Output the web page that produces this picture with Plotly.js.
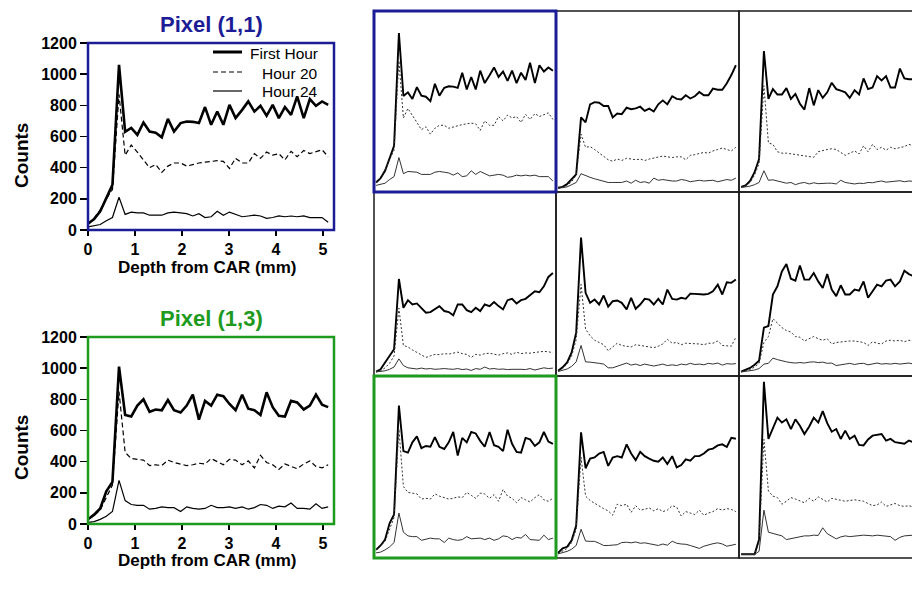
<!DOCTYPE html>
<html>
<head>
<meta charset="utf-8">
<script src="https://cdn.plot.ly/plotly-3.0.1.min.js"></script>
<style>
html,body{margin:0;padding:0;overflow:hidden;background:#ffffff;width:912px;height:590px}
#chart{width:930px;height:590px}
</style>
</head>
<body>
<div id="chart"></div>
<script>
// Depth from CAR (mm), sample positions
const depth = [0.00,0.13,0.26,0.39,0.52,0.66,0.79,0.92,1.05,1.18,1.31,1.44,1.57,1.70,1.83,1.97,2.10,2.23,2.36,2.49,2.62,2.75,2.88,3.01,3.14,3.28,3.41,3.54,3.67,3.80,3.93,4.06,4.19,4.32,4.45,4.59,4.72,4.85,4.98,5.11];

const seriesNames = ["First Hour", "Hour 20", "Hour 24"];
const yTicks = [0,200,400,600,800,1000,1200];
const xTicks = [0,1,2,3,4,5];

// Pixel (1,1)
const p11_first = [40,70,120,200,290,1060,630,655,610,690,632,625,595,713,632,686,696,694,686,789,675,760,675,803,718,771,825,760,797,733,803,718,789,739,857,718,840,797,825,803];
const p11_h20   = [40,75,130,200,260,870,480,545,500,450,400,420,370,410,430,430,410,420,430,435,440,445,440,395,460,430,430,490,460,500,480,490,450,505,470,510,490,500,515,470];
const p11_h24   = [20,30,35,60,80,210,100,115,110,110,95,95,95,110,115,110,105,90,105,80,85,120,95,115,100,85,90,95,90,75,80,90,85,90,85,90,80,80,80,50];

// Pixel (1,3)
const p13_first = [30,60,100,210,270,1010,700,690,760,800,720,735,730,795,730,715,760,830,670,790,760,830,820,770,730,830,740,730,700,845,750,695,690,790,780,735,760,830,765,750];
const p13_h20   = [30,55,90,170,250,850,460,420,415,410,375,380,375,410,395,385,375,380,390,385,420,400,380,415,410,380,405,360,440,395,380,350,385,370,355,385,405,370,360,380];
const p13_h24   = [10,15,30,50,80,280,150,125,120,120,95,100,110,105,105,80,110,100,95,100,120,105,105,110,100,110,95,105,125,120,100,115,110,135,100,100,95,130,100,110];

// Pixel (2,1)
const p21_first = [5,10,30,60,95,484,450,573,588,584,562,562,484,510,506,550,540,546,557,528,544,524,573,600,573,628,610,606,635,613,628,657,635,635,680,673,673,717,773,840];
const p21_h20   = [0,5,20,45,90,370,280,285,265,240,220,195,185,200,190,205,200,195,200,190,200,205,210,220,215,210,215,215,195,225,230,240,245,240,255,265,275,265,255,280];
const p21_h24   = [0,5,10,25,40,100,85,75,65,55,45,40,40,40,40,50,35,55,40,45,35,70,55,60,55,50,50,60,55,45,50,55,50,50,55,45,55,60,55,70];

// Pixel (3,1)
const p31_first = [10,20,50,110,200,937,610,677,640,640,684,610,644,577,537,684,566,670,617,655,721,677,666,655,617,670,640,750,677,688,766,737,766,688,688,817,750,744,744,733];
const p31_h20   = [10,15,40,90,170,700,310,300,250,240,240,235,230,225,220,215,212,250,260,265,270,265,245,225,240,255,235,290,250,300,265,280,260,280,270,280,285,300,290,295];
const p31_h24   = [5,8,15,25,40,120,55,58,50,45,35,40,25,35,40,30,38,32,35,35,35,30,55,40,35,30,35,33,40,38,45,50,42,45,50,52,45,50,48,50];

// Pixel (1,2)
const p12_first = [5,20,65,110,155,626,433,484,455,462,433,400,404,426,444,411,404,382,455,455,417,404,433,411,455,444,471,444,422,484,493,462,484,493,515,544,537,577,640,666];
const p12_h20   = [3,10,30,60,110,430,180,170,150,135,115,100,110,120,118,125,122,130,135,125,120,100,120,115,125,128,120,115,125,130,120,135,125,130,128,135,137,140,138,130];
const p12_h24   = [2,5,10,20,35,90,45,30,25,22,28,22,25,20,22,25,22,20,25,18,22,12,25,20,35,22,25,20,22,18,20,22,20,18,25,15,22,30,25,28];

// Pixel (2,2)
const p22_first = [10,33,66,133,266,904,533,466,488,455,515,440,477,482,466,422,500,426,455,493,488,455,493,455,555,493,488,500,493,528,526,522,522,526,544,588,522,604,600,622];
const p22_h20   = [8,25,55,110,220,590,290,245,215,200,185,145,170,195,180,175,170,185,180,175,170,165,175,190,222,195,200,185,195,195,190,190,185,195,195,210,180,180,175,235];
const p22_h24   = [5,12,22,40,70,180,70,68,66,60,55,30,30,40,50,62,48,55,45,55,48,42,48,55,45,50,45,55,50,60,52,55,50,60,55,62,48,58,55,58];

// Pixel (3,2)
const p32_first = [5,15,29,51,78,300,311,522,577,677,726,628,615,717,622,622,666,610,566,659,555,511,584,522,522,555,548,610,500,544,588,577,615,622,577,610,682,659,644,633];
const p32_h20   = [3,8,18,35,60,200,240,360,330,300,280,270,240,235,210,225,240,225,215,225,190,200,205,210,210,210,205,200,180,205,195,190,210,215,210,215,205,215,210,205];
const p32_h24   = [2,5,10,15,25,55,60,95,85,75,70,65,62,65,62,68,70,65,68,60,62,45,52,55,60,52,58,60,50,55,62,55,58,55,60,55,58,62,55,60];

// Pixel (2,3)
const p23_first = [10,40,51,95,195,828,584,650,657,684,695,600,657,666,657,746,684,639,695,666,650,635,628,657,613,666,590,606,644,635,666,666,684,710,717,739,746,728,790,784];
const p23_h20   = [5,20,40,80,170,660,395,365,345,330,310,295,265,340,330,340,285,330,300,305,315,295,310,290,300,330,320,260,290,280,270,300,265,280,290,310,300,310,305,290];
const p23_h24   = [3,10,20,35,60,170,90,88,88,75,60,60,62,65,80,82,78,84,75,78,72,65,60,70,62,89,75,70,68,60,50,40,55,65,72,78,70,55,60,68];

// Pixel (3,3)
const p33_first = [0,0,0,0,100,1170,783,854,927,894,916,850,916,872,816,867,927,894,972,890,832,850,783,839,783,805,743,739,779,805,810,816,772,783,761,757,750,772,761,750];
const p33_h20   = [0,0,0,0,80,780,430,395,385,340,360,385,375,365,350,380,360,390,375,355,380,375,370,360,365,370,365,360,345,330,335,355,325,335,345,330,325,330,320,330];
const p33_h24   = [0,0,0,0,20,300,150,140,135,125,100,105,115,120,125,125,130,128,180,140,120,105,118,125,120,125,128,130,128,125,130,125,125,120,95,115,125,130,130,128];

// ---------- layout helpers ----------
const W = 930, H = 590;
const fx = px => px / W;
const fy = py => 1 - py / H;
const BLUE = "#1c1c96";
const GREEN = "#1e9a1e";
const FONT = "Liberation Sans, Arial, sans-serif";

const bigStyles = [
  {color:"#000000", width:2.6},
  {color:"#000000", width:1.2, dash:"5px,3px"},
  {color:"#000000", width:1.2}
];
const smallStyles = [
  {color:"#000000", width:1.9},
  {color:"#333333", width:1.0, dash:"2px,2px"},
  {color:"#333333", width:1.0}
];

const traces = [];
const layout = {
  width: W, height: H,
  margin: {l:0, r:0, t:0, b:0},
  paper_bgcolor: "#ffffff", plot_bgcolor: "#ffffff",
  font: {family: FONT, color: "#000000"},
  showlegend: false,
  shapes: [], annotations: []
};

function addPanel(idx, series, big, dom) {
  const xa = idx === 1 ? "x" : "x" + idx;
  const ya = idx === 1 ? "y" : "y" + idx;
  const styles = big ? bigStyles : smallStyles;
  series.forEach((ys, k) => {
    traces.push({
      type: "scatter", mode: "lines", x: depth, y: ys,
      xaxis: xa, yaxis: ya, name: seriesNames[k],
      showlegend: false, line: styles[k], hoverinfo: "skip"
    });
  });
  const xKey = idx === 1 ? "xaxis" : "xaxis" + idx;
  const yKey = idx === 1 ? "yaxis" : "yaxis" + idx;
  if (big) {
    layout[xKey] = {
      domain: [fx(dom[0]), fx(dom[1])], anchor: ya, range: [0, 5.234],
      tickvals: xTicks, ticks: "outside", ticklen: 5, tickwidth: 1.5, tickcolor: "#000",
      tickfont: {family: FONT, size: 16, weight: "bold", color: "#000"},
      showgrid: false, zeroline: false, showline: false, fixedrange: true
    };
    layout[yKey] = {
      domain: [fy(dom[3]), fy(dom[2])], anchor: xa, range: [0, 1200],
      tickvals: yTicks, ticks: "outside", ticklen: 7, tickwidth: 1.5, tickcolor: "#000",
      tickfont: {family: FONT, size: 16, weight: "bold", color: "#000"},
      showgrid: false, zeroline: false, showline: false, fixedrange: true
    };
  } else {
    layout[xKey] = {
      domain: [fx(dom[0]), fx(dom[1])], anchor: ya, range: [-0.06, 5.2],
      showticklabels: false, ticks: "", showgrid: false, zeroline: false, showline: false, fixedrange: true
    };
    layout[yKey] = {
      domain: [fy(dom[3]), fy(dom[2])], anchor: xa, range: [-25, 1210],
      showticklabels: false, ticks: "", showgrid: false, zeroline: false, showline: false, fixedrange: true
    };
  }
  return {xa, ya};
}

function border(ax, color, width) {
  layout.shapes.push({
    type: "rect", xref: ax.xa + " domain", yref: ax.ya + " domain",
    x0: 0, x1: 1, y0: 0, y1: 1, line: {color: color, width: width}, layer: "above"
  });
}

// Left detail charts: [x0, x1, yTop, yBottom] in px
const a1 = addPanel(1, [p11_first, p11_h20, p11_h24], true, [88, 334, 43, 230]);
const a2 = addPanel(2, [p13_first, p13_h20, p13_h24], true, [88, 334, 337, 524]);
border(a1, BLUE, 2.5);
border(a2, GREEN, 2.5);

// 3x3 grid
const cols = [[374, 556], [556, 739], [739, 921]];
const rows = [[11, 192], [192, 376], [376, 558]];
const gridData = [
  [[p11_first,p11_h20,p11_h24],[p21_first,p21_h20,p21_h24],[p31_first,p31_h20,p31_h24]],
  [[p12_first,p12_h20,p12_h24],[p22_first,p22_h20,p22_h24],[p32_first,p32_h20,p32_h24]],
  [[p13_first,p13_h20,p13_h24],[p23_first,p23_h20,p23_h24],[p33_first,p33_h20,p33_h24]]
];
let idx = 3;
const colored = [];
for (let r = 0; r < 3; r++) {
  for (let c = 0; c < 3; c++) {
    const ax = addPanel(idx, gridData[r][c], false, [cols[c][0], cols[c][1], rows[r][0], rows[r][1]]);
    if (r === 0 && c === 0) colored.push([ax, BLUE]);
    else if (r === 2 && c === 0) colored.push([ax, GREEN]);
    else border(ax, "#1a1a1a", 1.5);
    idx++;
  }
}
colored.forEach(([ax, col]) => border(ax, col, 3));

// Titles and axis titles
function ann(text, x, y, size, color, angle, weight, xanchor) {
  layout.annotations.push({
    text: text, xref: "paper", yref: "paper", x: fx(x), y: fy(y),
    xanchor: xanchor || "center", yanchor: "middle", showarrow: false, textangle: angle || 0,
    font: {family: FONT, size: size, weight: weight || "bold", color: color}
  });
}
ann("Pixel (1,1)", 211, 24, 22, BLUE);
ann("Pixel (1,3)", 211, 318, 22, GREEN);
ann("Counts", 21, 156, 19, "#000", -90);
ann("Counts", 21, 448, 19, "#000", -90);
ann("Depth from CAR (mm)", 207, 268, 17, "#000");
ann("Depth from CAR (mm)", 207, 560, 17, "#000");

// Legend for the three series (right-aligned labels as in the original)
const legendRows = [52, 72, 91];
seriesNames.forEach((nm, k) => {
  const st = bigStyles[k];
  layout.shapes.push({
    type: "line", xref: "paper", yref: "paper",
    x0: fx(213), x1: fx(242), y0: fy(legendRows[k]), y1: fy(legendRows[k]),
    line: {color: st.color, width: k === 0 ? 3 : 1.2, dash: st.dash || "solid"}, layer: "above"
  });
  ann(nm, 320, legendRows[k] + 1, 15.5, "#000", 0, "normal", "right");
});

Plotly.newPlot("chart", traces, layout, {displayModeBar: false, staticPlot: true});
</script>
</body>
</html>
